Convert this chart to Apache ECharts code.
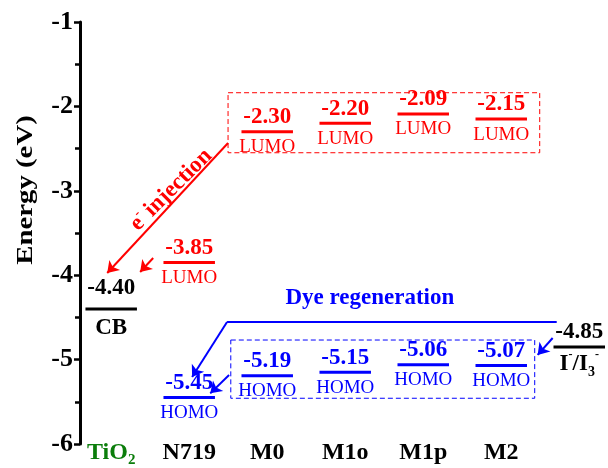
<!DOCTYPE html>
<html>
<head>
<meta charset="utf-8">
<script src="https://cdn.jsdelivr.net/npm/echarts@6/dist/echarts.min.js"></script>
<style>html,body{margin:0;padding:0;background:#fff}#c{width:608px;height:468px}</style>
</head>
<body>
<div id="c"></div>
<script>
// ---- data ----
const categories = ['TiO2', 'N719', 'M0', 'M1o', 'M1p', 'M2'];
const lumo = [null, -3.85, -2.30, -2.20, -2.09, -2.15];
const homo = [null, -5.45, -5.19, -5.15, -5.06, -5.07];
const cbTiO2 = -4.40;
const redoxI = -4.85;

const RED = '#ff0000', BLUE = '#0000ff', BLACK = '#000000', GREEN = '#0b7d0b';
const FONT = '"Liberation Serif","Times New Roman",serif';

// level items: [xIndex, value, valueText, nameKey, color]
const levels = [];
levels.push([0, cbTiO2, cbTiO2.toFixed(2), 'CB', BLACK]);
for (let i = 1; i < categories.length; i++) {
  if (lumo[i] != null) levels.push([i, lumo[i], lumo[i].toFixed(2), 'LUMO', RED]);
  if (homo[i] != null) levels.push([i, homo[i], homo[i].toFixed(2), 'HOMO', BLUE]);
}
levels.push([6, redoxI, redoxI.toFixed(2), 'I3', BLACK]);

const HW = 0.33;

const chart = echarts.init(document.getElementById('c'), null, {renderer: 'canvas'});

function nameText(key, color) {
  if (key === 'I3') {
    return {
      text: '{b|I}{sup|-}{b|/I}{sub|3}{sup|-}',
      rich: {
        b: {font: 'bold 23px ' + FONT, fill: color, lineHeight: 30, verticalAlign: 'middle'},
        sub: {font: 'bold 14px ' + FONT, fill: color, lineHeight: 30, verticalAlign: 'bottom'},
        sup: {font: 'bold 12px ' + FONT, fill: color, lineHeight: 30, verticalAlign: 'top'}
      }
    };
  }
  if (key === 'CB') return {text: 'CB', font: 'bold 23px ' + FONT, fill: color};
  return {text: key, font: '19px ' + FONT, fill: color};
}

const option = {
  animation: false,
  backgroundColor: '#fff',
  grid: {left: 80, right: 3, top: 22, bottom: 24, containLabel: false},
  xAxis: {type: 'value', min: -0.4, max: 6.33, show: false},
  yAxis: {
    type: 'value', min: -6, max: -1, interval: 1,
    axisLine: {show: true, onZero: false, lineStyle: {color: BLACK, width: 3}},
    axisTick: {show: true, length: 6, lineStyle: {color: BLACK, width: 2.5}},
    minorTick: {show: true, splitNumber: 2, length: 5, lineStyle: {color: BLACK, width: 2.5}},
    splitLine: {show: false},
    axisLabel: {color: BLACK, fontFamily: FONT, fontWeight: 'bold', fontSize: 26, margin: 7}
  },
  graphic: [{
    type: 'text', x: 26, y: 190, rotation: Math.PI / 2, scaleX: 1.2,
    style: {text: 'Energy (eV)', font: 'bold 24px ' + FONT, fill: BLACK, align: 'center', verticalAlign: 'middle'}
  }],
  series: [
    {
      type: 'custom', name: 'levels', data: levels,
      renderItem: function (params, api) {
        const x = api.value(0), v = api.value(1);
        const it = levels[params.dataIndex];
        const p1 = api.coord([x - HW, v]), p2 = api.coord([x + HW, v]);
        const cx = (p1[0] + p2[0]) / 2;
        const color = it[4];
        const nt = nameText(it[3], color);
        const isCB = it[3] === 'CB';
        const upGap = isCB ? 9 : 3;
        const downGap = isCB ? 8 : (it[3] === 'I3' ? 2 : 6);
        return {
          type: 'group', children: [
            {type: 'line', shape: {x1: p1[0], y1: p1[1], x2: p2[0], y2: p2[1]}, style: {stroke: color, lineWidth: 3}},
            {type: 'text', x: cx, y: p1[1] - upGap, style: {text: it[2], font: 'bold 23px ' + FONT, fill: color, align: 'center', verticalAlign: 'bottom'}},
            {type: 'text', x: cx, y: p1[1] + downGap, style: Object.assign({align: 'center', verticalAlign: 'top'}, nt)}
          ]
        };
      }
    },
    {
      type: 'custom', name: 'cats', data: categories.map((c, i) => [i, -6]),
      renderItem: function (params, api) {
        const p = api.coord([api.value(0), api.value(1)]);
        const name = categories[params.dataIndex];
        let style;
        if (name === 'TiO2') {
          style = {text: '{b|TiO}{sub|2}', rich: {
            b: {font: 'bold 24px ' + FONT, fill: GREEN, lineHeight: 30, verticalAlign: 'middle'},
            sub: {font: 'bold 15px ' + FONT, fill: GREEN, lineHeight: 30, verticalAlign: 'bottom'}
          }};
        } else {
          style = {text: name, font: 'bold 24px ' + FONT, fill: BLACK};
        }
        return {type: 'text', x: p[0], y: p[1] + 9, style: Object.assign({align: 'center', verticalAlign: 'middle'}, style)};
      }
    },
    {
      type: 'lines', coordinateSystem: 'cartesian2d',
      symbol: ['none', 'arrow'], symbolSize: 11,
      lineStyle: {color: RED, width: 2, opacity: 1},
      data: [
        {coords: [[1.498, -2.434], [-0.051, -3.974]]},
        {coords: [[0.538, -3.796], [0.371, -3.962]]}
      ],
      markArea: {
        silent: true,
        itemStyle: {color: 'rgba(0,0,0,0)', borderColor: RED, borderWidth: 1, borderType: [5, 3]},
        data: [[{coord: [1.498, -1.838]}, {coord: [5.493, -2.549]}]]
      }
    },
    {
      type: 'lines', coordinateSystem: 'cartesian2d',
      symbol: ['none', 'none'],
      lineStyle: {color: BLUE, width: 2, opacity: 1},
      data: [
        {coords: [[5.711, -4.555], [1.485, -4.555]]}
      ]
    },
    {
      type: 'lines', coordinateSystem: 'cartesian2d',
      symbol: ['none', 'arrow'], symbolSize: 11,
      lineStyle: {color: BLUE, width: 2, opacity: 1},
      data: [
        {coords: [[1.485, -4.555], [1.037, -5.206]]},
        {coords: [[1.511, -5.182], [1.27, -5.40]]},
        {coords: [[5.659, -4.744], [5.467, -4.945]]}
      ],
      markArea: {
        silent: true,
        itemStyle: {color: 'rgba(0,0,0,0)', borderColor: BLUE, borderWidth: 1, borderType: [5, 3]},
        data: [[{coord: [1.533, -4.768]}, {coord: [5.429, -5.458]}]]
      }
    },
    {
      type: 'custom', name: 'notes',
      data: [[0.768, -2.99], [3.316, -4.27]],
      renderItem: function (params, api) {
        const p = api.coord([api.value(0), api.value(1)]);
        if (params.dataIndex === 0) {
          return {type: 'text', x: p[0], y: p[1], rotation: 45 * Math.PI / 180,
            style: {text: '{b|e}{sup|-}{b| injection}', align: 'center', verticalAlign: 'middle', rich: {
              b: {font: 'bold 23px ' + FONT, fill: RED, lineHeight: 28, verticalAlign: 'middle'},
              sup: {font: 'bold 13px ' + FONT, fill: RED, lineHeight: 28, verticalAlign: 'top'}
            }}};
        }
        return {type: 'text', x: p[0], y: p[1],
          style: {text: 'Dye regeneration', font: 'bold 23px ' + FONT, fill: BLUE, align: 'center', verticalAlign: 'middle'}};
      }
    }
  ]
};
chart.setOption(option);
</script>
</body>
</html>
